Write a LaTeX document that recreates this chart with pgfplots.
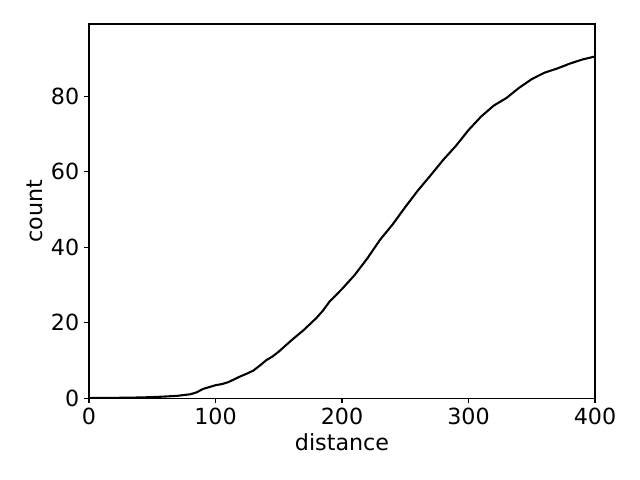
\documentclass[border=0pt]{standalone}
\usepackage{pgfplots}
\pgfplotsset{compat=1.18}
\usepackage{fontspec}
\setmainfont{DejaVu Sans}

\pgfplotstableread{
x y
0 0
20 0.05
40 0.15
50 0.25
60 0.4
70 0.6
80 1.0
85 1.5
90 2.4
95 2.9
100 3.4
105 3.7
110 4.2
115 5.0
120 5.8
125 6.5
130 7.3
135 8.6
140 10.0
145 11.0
150 12.3
160 15.3
170 18.1
180 21.3
185 23.2
190 25.5
200 28.9
210 32.6
220 37.0
230 41.9
240 46.0
250 50.6
260 55.0
270 59.0
280 63.1
290 66.8
300 71.0
310 74.6
320 77.5
330 79.5
340 82.2
350 84.5
360 86.2
370 87.3
380 88.6
390 89.7
400 90.5
}\curve

\begin{document}
\begin{tikzpicture}
\begin{axis}[
    at={(0,0)}, anchor=south west,
    scale only axis,
    width=364.3pt, height=269.3pt,
    xmin=0, xmax=400,
    ymin=0, ymax=99.1,
    xtick={0,100,...,400},
    ytick={0,20,...,80},
    tick align=outside,
    tick pos=left,
    major tick length=3.5pt,
    every tick/.style={black, line width=0.8pt},
    axis line style={line width=0.8pt},
    /pgf/number format/assume math mode=true,
    tick label style={font=\fontsize{16}{19}\selectfont},
    xlabel={distance},
    ylabel={count},
    every axis x label/.style={at={(axis description cs:0.5,0)}, anchor=center, yshift=-31.7pt, font=\fontsize{16}{19}\selectfont},
    every axis y label/.style={at={(axis description cs:0,0.5)}, rotate=90, anchor=center, yshift=38.9pt, font=\fontsize{16}{19}\selectfont},
]
\addplot[black, line width=1.5pt, no marks] table {\curve};
\end{axis}
\path[use as bounding box] (-64.1pt,-59pt) rectangle (396.7pt,286.6pt);
\end{tikzpicture}
\end{document}
